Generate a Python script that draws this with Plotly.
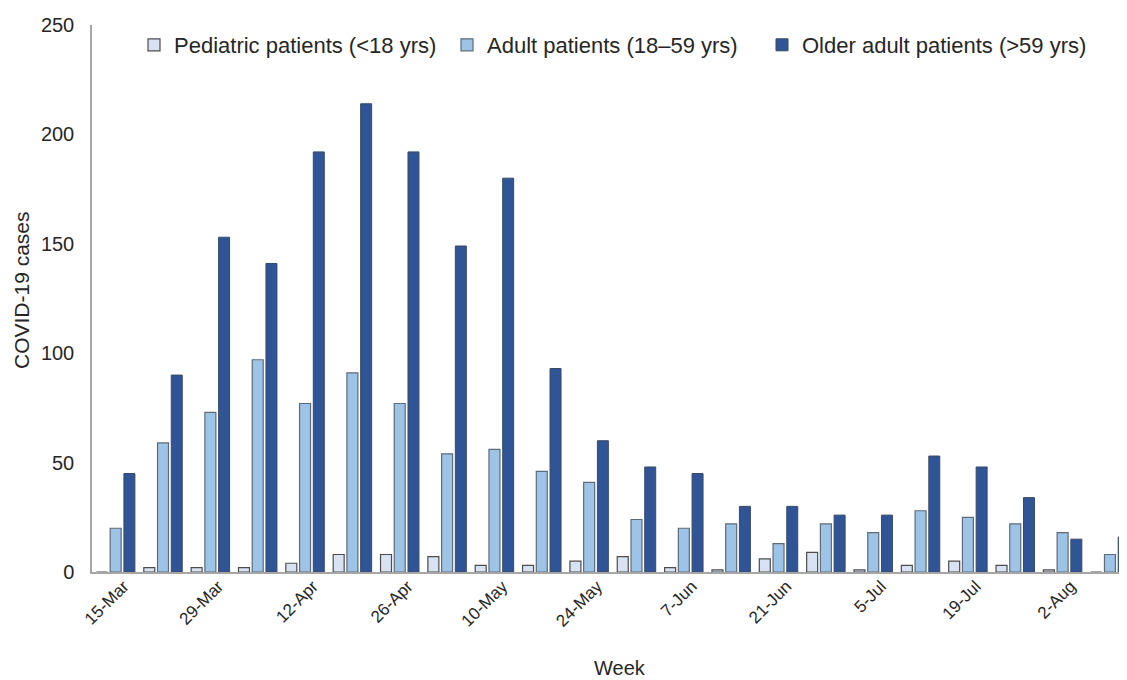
import plotly.graph_objects as go

weeks = ["15-Mar", "22-Mar", "29-Mar", "5-Apr", "12-Apr", "19-Apr", "26-Apr", "3-May",
         "10-May", "17-May", "24-May", "31-May", "7-Jun", "14-Jun", "21-Jun", "28-Jun",
         "5-Jul", "12-Jul", "19-Jul", "26-Jul", "2-Aug", "9-Aug"]
pediatric = [0, 2, 2, 2, 4, 8, 8, 7, 3, 3, 5, 7, 2, 1, 6, 9, 1, 3, 5, 3, 1, 0]
adult = [20, 59, 73, 97, 77, 91, 77, 54, 56, 46, 41, 24, 20, 22, 13, 22, 18, 28, 25, 22, 18, 8]
older = [45, 90, 153, 141, 192, 214, 192, 149, 180, 93, 60, 48, 45, 30, 30, 26, 26, 53, 48, 34, 15, 16]
tick_labels = weeks[::2]
y_ticks = [0, 50, 100, 150, 200, 250]

FONT = "Liberation Sans, Arial, sans-serif"
TXT = "#262626"

# page body has an 8px margin; figure coordinates below are screen minus 8
OFF = 8
W, H = 1127 - OFF, 680 - OFF
L, T = 92 - OFF, 25 - OFF
PLOT_BOTTOM = 572 - OFF
PW, PH = W - L, PLOT_BOTTOM - T


def px(x):
    return (x - OFF - L) / PW


def py(y):
    return 1 - (y - OFF - T) / PH


fig = go.Figure()
fig.add_trace(go.Bar(x=weeks, y=pediatric, name="Pediatric patients (&lt;18 yrs)",
                     marker=dict(color="#d9e2f3", line=dict(color="#4d4d4d", width=1.2)),
                     legend="legend", showlegend=True))
fig.add_trace(go.Bar(x=weeks, y=adult, name="Adult patients (18\u201359 yrs)",
                     marker=dict(color="#9dc3e6", line=dict(color="#5f6b78", width=1.2)),
                     legend="legend2", showlegend=True))
fig.add_trace(go.Bar(x=weeks, y=older, name="Older adult patients (&gt;59 yrs)",
                     marker=dict(color="#2f5597", line=dict(color="#3a4a66", width=1)),
                     legend="legend3", showlegend=True))

leg_common = dict(orientation="h", xanchor="left", yanchor="middle", y=py(45),
                  font=dict(family=FONT, size=22, color=TXT), bgcolor="rgba(0,0,0,0)",
                  itemwidth=30)

fig.update_layout(
    width=W, height=H,
    margin=dict(l=L, r=0, t=T, b=H - PLOT_BOTTOM),
    paper_bgcolor="white", plot_bgcolor="white",
    barmode="group", bargap=0.13, bargroupgap=0.2,
    font=dict(family=FONT, color=TXT),
    showlegend=True,
    legend=dict(x=px(134), **leg_common),
    legend2=dict(x=px(447), **leg_common),
    legend3=dict(x=px(762), **leg_common),
    xaxis=dict(type="category", range=[-0.5, 21.36], tickmode="array",
               tickvals=tick_labels, ticktext=tick_labels, tickangle=-45,
               tickfont=dict(size=17, family=FONT, color=TXT), ticklabelshift=8,
               ticklabelstandoff=-4,
               showline=True, linecolor="#a6a6a6", linewidth=1.5,
               showgrid=False, ticks="", zeroline=False, automargin=False),
    yaxis=dict(range=[0, 250], tickmode="array", tickvals=y_ticks,
               tickfont=dict(size=20, family=FONT, color=TXT),
               showline=True, linecolor="#a6a6a6", linewidth=1.5,
               showgrid=False, ticks="", zeroline=False, ticklabelstandoff=12,
               automargin=False),
    annotations=[
        dict(text="Week", xref="paper", yref="paper", x=px(620), y=py(668),
             xanchor="center", yanchor="middle", showarrow=False,
             font=dict(family=FONT, size=20, color=TXT)),
        dict(text="COVID-19 cases", xref="paper", yref="paper", x=px(21), y=py(290),
             xanchor="center", yanchor="middle", showarrow=False,
             textangle=-90, font=dict(family=FONT, size=21, color=TXT)),
    ],
)

fig.write_html("out.html")
